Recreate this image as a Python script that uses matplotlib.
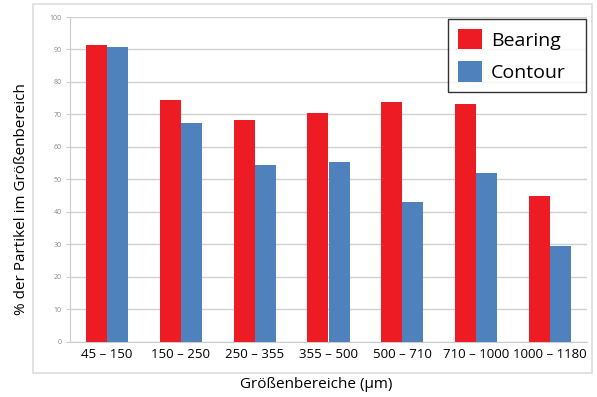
import numpy as np
import matplotlib.pyplot as plt
from matplotlib.patches import Rectangle

# data
categories = ["45 – 150", "150 – 250", "250 – 355", "355 – 500",
              "500 – 710", "710 – 1000", "1000 – 1180"]
bearing = [91.4, 74.4, 68.3, 70.3, 73.9, 73.2, 44.9]
contour = [90.7, 67.4, 54.4, 55.2, 42.9, 51.8, 29.5]
yticks = list(range(0, 101, 10))

plt.rcParams['font.family'] = ['Open Sans', 'DejaVu Sans']

fig = plt.figure(figsize=(5.97, 3.97), dpi=100)
ax = fig.add_axes([70/597, 1-341.5/397, 517/597, 324.5/397])

# outer chart frame
fig.patches.append(Rectangle((33/597, 1-373/397), 559/597, 369/397,
                             transform=fig.transFigure, fill=False,
                             edgecolor='#dddddd', lw=1.2))

x = np.arange(len(categories))
w = 0.285
ax.bar(x - w/2, bearing, w, color='#ed1c24', label='Bearing', zorder=3)
ax.bar(x + w/2, contour, w, color='#4f81bd', label='Contour', zorder=3)

ax.set_xlim(-0.5, len(categories) - 0.5)
ax.set_ylim(0, 100)
ax.set_yticks(yticks)
ax.set_yticklabels([str(t) for t in yticks], fontsize=5, color='#888888')
ax.set_xticks(x)
ax.set_xticklabels(categories, fontsize=9.5)
ax.tick_params(axis='x', length=0, pad=5)
ax.tick_params(axis='y', length=3, color='#cccccc', pad=3)
ax.grid(axis='y', color='#d0d0d0', lw=1.0, zorder=0)

for s in ['top', 'right']:
    ax.spines[s].set_visible(False)
ax.spines['left'].set_color('#cccccc')
ax.spines['bottom'].set_color('#cccccc')

fig.text(316/597, 1-384/397, "Größenbereiche (µm)", fontsize=11,
         ha='center', va='center')
fig.text(22/597, 1-199/397, "% der Partikel im Größenbereich", fontsize=11,
         ha='center', va='center', rotation=90)

# legend box stretched to the size seen in the reference
leg = ax.legend(loc='upper left', bbox_to_anchor=(448/597, 1-90/397, 138/597, 71/397),
                bbox_transform=fig.transFigure, mode='expand', fontsize=14,
                frameon=True, fancybox=False, edgecolor='black',
                handlelength=1.25, handleheight=1.25, handletextpad=0.45,
                labelspacing=0.6, borderpad=0.5, borderaxespad=0)
leg.get_frame().set_linewidth(1.0)

fig.savefig("out.png", dpi=100)
